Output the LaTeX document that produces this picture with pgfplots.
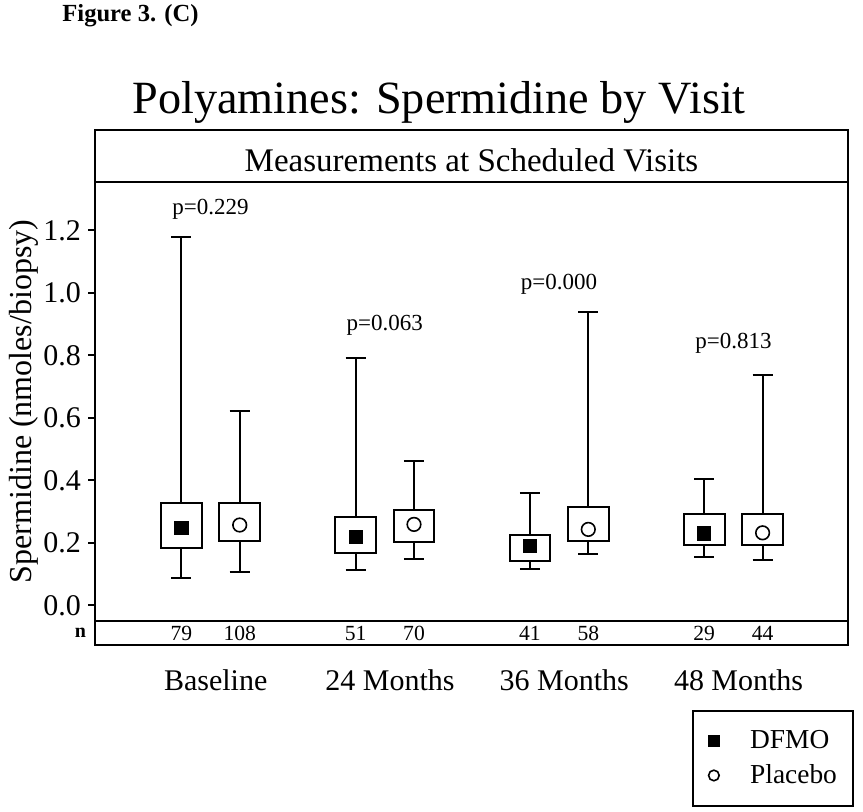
\documentclass[border=0pt]{standalone}
\usepackage{fontspec}
\setmainfont{Liberation Serif}
\usepackage{pgfplots}
\pgfplotsset{compat=1.18}
\usepgfplotslibrary{statistics}

\newcommand{\fs}[1]{\fontsize{#1}{#1}\selectfont}

% one box: position, low whisker, Q1, median, Q3, high whisker
\pgfplotsset{
  bp/.style n args={6}{forget plot, black, line width=1pt,
    boxplot prepared={draw direction=y, draw position=#1, lower whisker=#2,
      lower quartile=#3, median=#4, upper quartile=#5, upper whisker=#6,
      box extend=0.2335, whisker extend=0.115}},
}

\begin{document}
\begin{tikzpicture}
% page in pixel units of the reference, origin top left
\begin{scope}[x=0.5pt,y=-0.5pt]
  \path[use as bounding box] (0,0) rectangle (863,811);
  \node[anchor=base west, font=\fs{12.3}\bfseries, inner sep=0pt] at (62,21.7) {Figure 3. (C)};
  \node[anchor=base, font=\fs{23.1}, inner sep=0pt] at (439,113) {Polyamines: Spermidine by Visit};
  \draw[line width=1pt] (95,130) rectangle (848,645);
  \node[anchor=base, font=\fs{16.5}, inner sep=0pt] at (471.5,171.5) {Measurements at Scheduled Visits};
  \node[anchor=base, font=\fs{10}\bfseries, inner sep=0pt] at (80.5,637) {n};
\end{scope}

\begin{axis}[
  at={(47.5pt,-310.5pt)}, anchor=south west,
  scale only axis, width=376.5pt, height=219.5pt,
  xmin=0.3373, xmax=4.6575, ymin=-0.0502, ymax=1.3546,
  clip=false,
  axis line style={line width=1pt},
  tick align=outside, major tick length=3.5pt,
  tick style={black, line width=1pt},
  xtick={1,2,3,4},
  xticklabels={Baseline,24 Months,36 Months,48 Months},
  x tick label style={font=\fs{15}, anchor=base, yshift=-31.15pt, xshift=2.6pt},
  major x tick style={draw=none},
  ytick={0,0.2,0.4,0.6,0.8,1.0,1.2},
  ytick pos=left,
  y tick label style={font=\fs{15}, /pgf/number format/.cd, fixed, fixed zerofill,
    precision=1, assume math mode=true},
  ylabel={Spermidine (nmoles/biopsy)},
  ylabel style={font=\fs{16}, at={(axis description cs:-0.0943,0.5)}, anchor=center},
  boxplot/draw/median/.code={},
  legend style={at={(axis description cs:0.7928,-0.2016)}, anchor=north west,
    draw=black, line width=1pt, font=\fs{13.7},
    inner xsep=7.8pt, inner ysep=10pt, row sep=6.4pt,
    nodes={inner sep=0pt}, column sep=15.5pt},
  legend cell align=left,
  legend image code/.code={\draw[#1] plot coordinates {(0pt,0pt)};},
  legend image post style={mark size=2.65pt},
]
% DFMO
\addplot[bp={0.8325}{0.086}{0.182}{0.248}{0.326}{1.178}] coordinates {};
\addplot[bp={1.8325}{0.113}{0.166}{0.220}{0.284}{0.790}] coordinates {};
\addplot[bp={2.8325}{0.115}{0.141}{0.191}{0.226}{0.360}] coordinates {};
\addplot[bp={3.8325}{0.155}{0.194}{0.230}{0.292}{0.405}] coordinates {};
% Placebo
\addplot[bp={1.1675}{0.106}{0.205}{0.257}{0.327}{0.623}] coordinates {};
\addplot[bp={2.1675}{0.147}{0.202}{0.259}{0.305}{0.461}] coordinates {};
\addplot[bp={3.1675}{0.164}{0.207}{0.243}{0.316}{0.938}] coordinates {};
\addplot[bp={4.1675}{0.146}{0.194}{0.232}{0.292}{0.738}] coordinates {};

% means
\addplot[only marks, mark=square*, mark size=3.3pt, black] coordinates {
  (0.8325,0.248) (1.8325,0.220) (2.8325,0.191) (3.8325,0.230)};
\addlegendentry{DFMO}
\addplot[only marks, mark=*, mark size=3.4pt, black,
  mark options={fill=white, line width=0.8pt}] coordinates {
  (1.1675,0.257) (2.1675,0.259) (3.1675,0.243) (4.1675,0.232)};
\addlegendentry{Placebo}

% p-values
\node[anchor=base, font=\fs{11.5}, inner sep=0pt] at (axis cs:1,1.252) {p=0.229};
\node[anchor=base, font=\fs{11.5}, inner sep=0pt] at (axis cs:2,0.881) {p=0.063};
\node[anchor=base, font=\fs{11.5}, inner sep=0pt] at (axis cs:3,1.011) {p=0.000};
\node[anchor=base, font=\fs{11.5}, inner sep=0pt] at (axis cs:4,0.822) {p=0.813};

% counts
\node[anchor=base, font=\fs{10.8}, inner sep=0pt] at (axis cs:0.8325,-0.111) {79};
\node[anchor=base, font=\fs{10.8}, inner sep=0pt] at (axis cs:1.1675,-0.111) {108};
\node[anchor=base, font=\fs{10.8}, inner sep=0pt] at (axis cs:1.8325,-0.111) {51};
\node[anchor=base, font=\fs{10.8}, inner sep=0pt] at (axis cs:2.1675,-0.111) {70};
\node[anchor=base, font=\fs{10.8}, inner sep=0pt] at (axis cs:2.8325,-0.111) {41};
\node[anchor=base, font=\fs{10.8}, inner sep=0pt] at (axis cs:3.1675,-0.111) {58};
\node[anchor=base, font=\fs{10.8}, inner sep=0pt] at (axis cs:3.8325,-0.111) {29};
\node[anchor=base, font=\fs{10.8}, inner sep=0pt] at (axis cs:4.1675,-0.111) {44};
\end{axis}
\end{tikzpicture}
\end{document}
